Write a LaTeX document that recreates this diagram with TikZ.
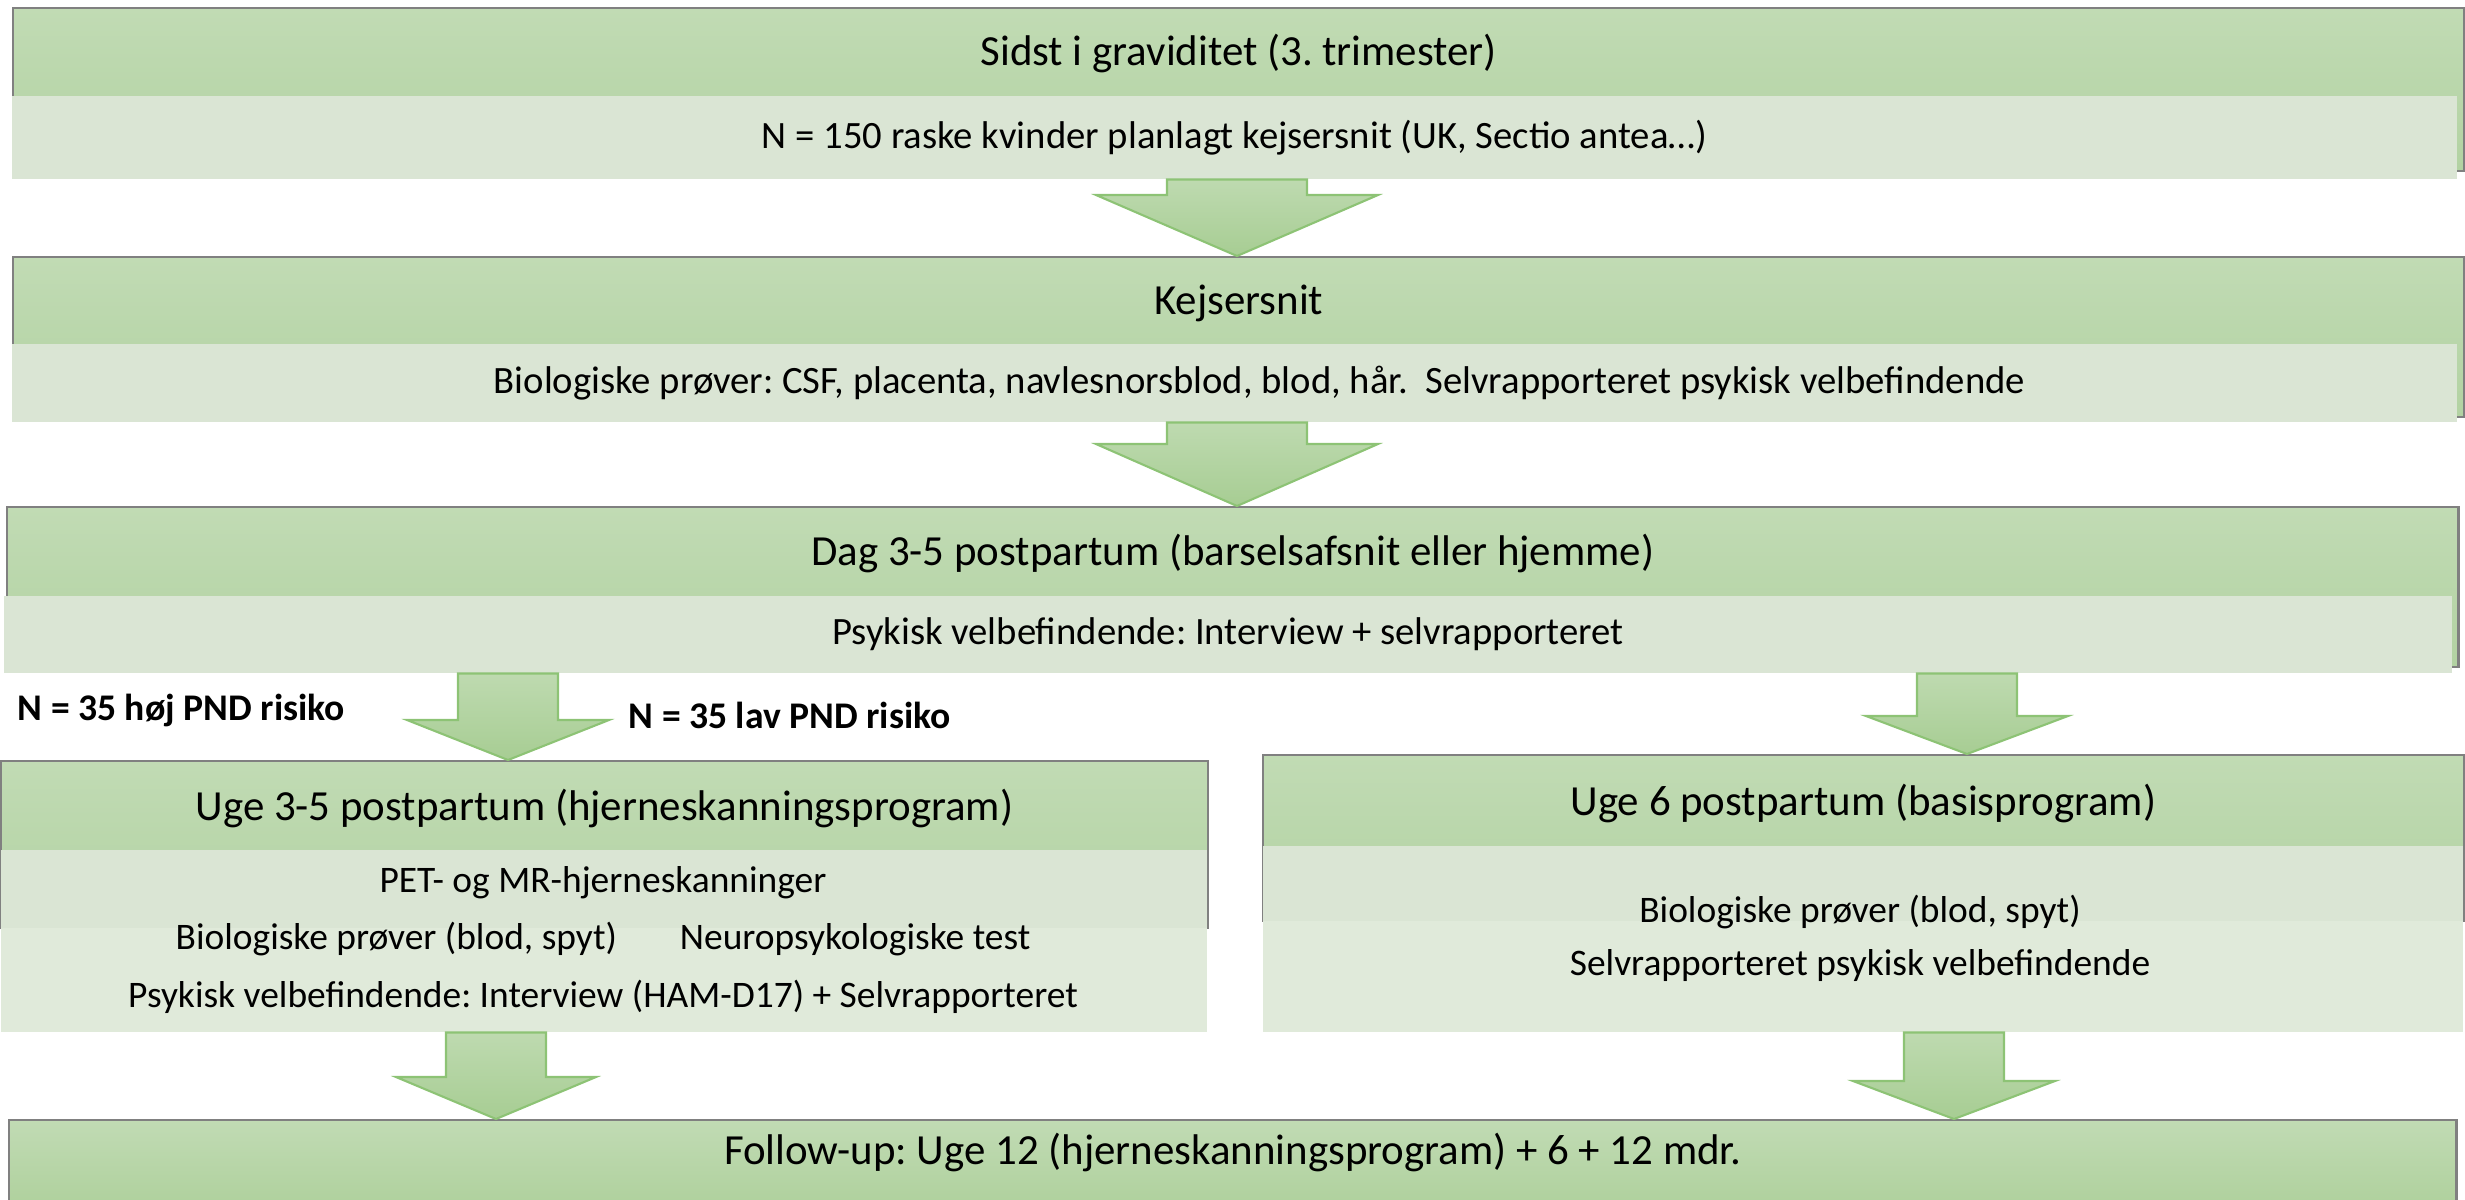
\documentclass[tikz,border=0pt]{standalone}
\usepackage{fontspec}
\setmainfont{Carlito}
\frenchspacing
\usetikzlibrary{calc}
\definecolor{hdrtop}{RGB}{193,219,180}
\definecolor{hdrbot}{RGB}{178,210,162}
\definecolor{hdrline}{RGB}{128,128,128}
\definecolor{subfill}{RGB}{218,229,212}
\definecolor{subfilltwo}{RGB}{224,234,218}
\definecolor{arrtop}{RGB}{190,218,176}
\definecolor{arrbot}{RGB}{167,205,147}
\definecolor{arrline}{RGB}{141,195,117}
\definecolor{followbot}{RGB}{172,207,153}
\tikzset{
	hdrback/.style={rectangle, draw=hdrline, line width=0.6pt, top color=hdrtop, bottom color=hdrbot, inner sep=0pt, anchor=north west},
	hdrtext/.style={font=\fontsize{12.2}{14}\selectfont, inner sep=0pt},
	subbar/.style={rectangle, fill=subfill, inner sep=0pt, anchor=north west, font=\fontsize{11}{13}\selectfont},
	subbartwo/.style={subbar, fill=subfilltwo},
	ugetext/.style={align=center, inner sep=0pt},
	risk/.style={font=\bfseries\fontsize{10.7}{12}\selectfont, inner sep=0pt, anchor=west},
	bigarrow/.style={draw=arrline, line width=0.6pt, top color=arrtop, bottom color=arrbot, line join=miter},
}
% #1 shaft top, #2 tip, #3 half shaft, #4 half head, #5 head length
\newcommand{\blockarrow}[5]{
	\draw[bigarrow] ($(#1)+(-#3,0)$) -- ($(#2)+(-#3,-#5)$) -- ($(#2)+(-#4,-#5)$) -- (#2)
		-- ($(#2)+(#4,-#5)$) -- ($(#2)+(#3,-#5)$) -- ($(#1)+(#3,0)$) -- cycle;
}
\begin{document}
\begin{tikzpicture}[x=0.01cm, y=-0.01cm]
	\clip (0,0) rectangle (2465,1200);
	%Sidst i graviditet
	\node[hdrback, minimum width=24.50cm, minimum height=1.63cm] (sidstbox) at (12,7) {};
	\node[hdrtext] (sidst) at ($(sidstbox.north)+(0,46)$) {Sidst i graviditet (3. trimester)};
	\node[subbar, minimum width=24.44cm, minimum height=0.83cm] (nraske) at (11,95) {N = 150 raske kvinder planlagt kejsersnit (UK, Sectio antea…)};
	%Kejsersnit
	\node[hdrback, minimum width=24.50cm, minimum height=1.60cm] (kejserbox) at (12,256) {};
	\node[hdrtext] (kejser) at ($(kejserbox.north)+(0,47)$) {Kejsersnit};
	\node[subbar, minimum width=24.44cm, minimum height=0.78cm] (prover) at (11,343) {\hspace*{0.5cm}Biologiske prøver: CSF, placenta, navlesnorsblod, blod, hår.\ \ Selvrapporteret psykisk velbefindende};
	%Dag 3-5
	\node[hdrback, minimum width=24.50cm, minimum height=1.60cm] (dagbox) at (6,506) {};
	\node[hdrtext] (dag) at ($(dagbox.north)+(0,47)$) {Dag 3-5 postpartum (barselsafsnit eller hjemme)};
	\node[subbar, minimum width=24.47cm, minimum height=0.77cm] (psykisk) at (3,595) {Psykisk velbefindende: Interview + selvrapporteret};
	%Uge 3-5 (left)
	\node[hdrback, minimum width=12.06cm, minimum height=1.67cm] (ugeAbox) at (0,760) {};
	\node[hdrtext] (ugeA) at ($(ugeAbox.north)+(0,48)$) {Uge 3-5 postpartum (hjerneskanningsprogram)};
	\node[subbar, minimum width=12.06cm, minimum height=0.78cm] (scanA) at (0,849) {};
	\node[subbartwo, minimum width=12.06cm, minimum height=1.04cm] (scanB) at (0,927) {};
	\node[ugetext, font=\fontsize{10.65}{16.4}\selectfont] (scantext) at (603,940)
		{PET- og MR-hjerneskanninger\\ Biologiske prøver (blod, spyt)\hspace{0.63cm}Neuropsykologiske test\\ Psykisk velbefindende: Interview (HAM-D17) + Selvrapporteret};
	%Uge 6 (right)
	\node[hdrback, minimum width=12.00cm, minimum height=1.66cm] (ugeBbox) at (1262,754) {};
	\node[hdrtext] (ugeB) at ($(ugeBbox.north)+(0,49)$) {Uge 6 postpartum (basisprogram)};
	\node[subbar, minimum width=12.00cm, minimum height=0.75cm] (basisA) at (1262,845) {};
	\node[subbartwo, minimum width=12.00cm, minimum height=1.11cm] (basisB) at (1262,920) {};
	\node[ugetext, font=\fontsize{10.65}{15.1}\selectfont] (basistext) at (1860,938)
		{Biologiske prøver (blod, spyt)\\ Selvrapporteret psykisk velbefindende};
	%Follow-up
	\node[hdrback, bottom color=followbot, minimum width=24.46cm, minimum height=1.00cm] (followbox) at (8,1119) {};
	\node[hdrtext] (follow) at ($(followbox.north)+(0,33)$) {Follow-up: Uge 12 (hjerneskanningsprogram) + 6 + 12 mdr.};
	%Risk groups
	\node[risk] (hojrisk) at (17,710) {N = 35 høj PND risiko};
	\node[risk] (lavrisk) at (628,715) {N = 35 lav PND risiko};
	%Arrows
	\coordinate (a1top) at (1237,0 |- nraske.south);
	\coordinate (a1tip) at (1237,0 |- kejserbox.north);
	\coordinate (a2top) at (1237,0 |- prover.south);
	\coordinate (a2tip) at (1237,0 |- dagbox.north);
	\coordinate (a3top) at (508,0 |- psykisk.south);
	\coordinate (a3tip) at (508,0 |- ugeAbox.north);
	\coordinate (a4top) at (1967,0 |- psykisk.south);
	\coordinate (a4tip) at (1967,0 |- ugeBbox.north);
	\coordinate (a5top) at (496,0 |- scanB.south);
	\coordinate (a5tip) at (496,0 |- followbox.north);
	\coordinate (a6top) at (1954,0 |- basisB.south);
	\coordinate (a6tip) at (1954,0 |- followbox.north);
	\blockarrow{a1top}{a1tip}{70}{141}{61}
	\blockarrow{a2top}{a2tip}{70}{141}{62}
	\blockarrow{a3top}{a3tip}{50}{101}{40}
	\blockarrow{a4top}{a4tip}{50}{101}{38}
	\blockarrow{a5top}{a5tip}{50}{100}{42}
	\blockarrow{a6top}{a6tip}{50}{101}{38}
\end{tikzpicture}
\end{document}
